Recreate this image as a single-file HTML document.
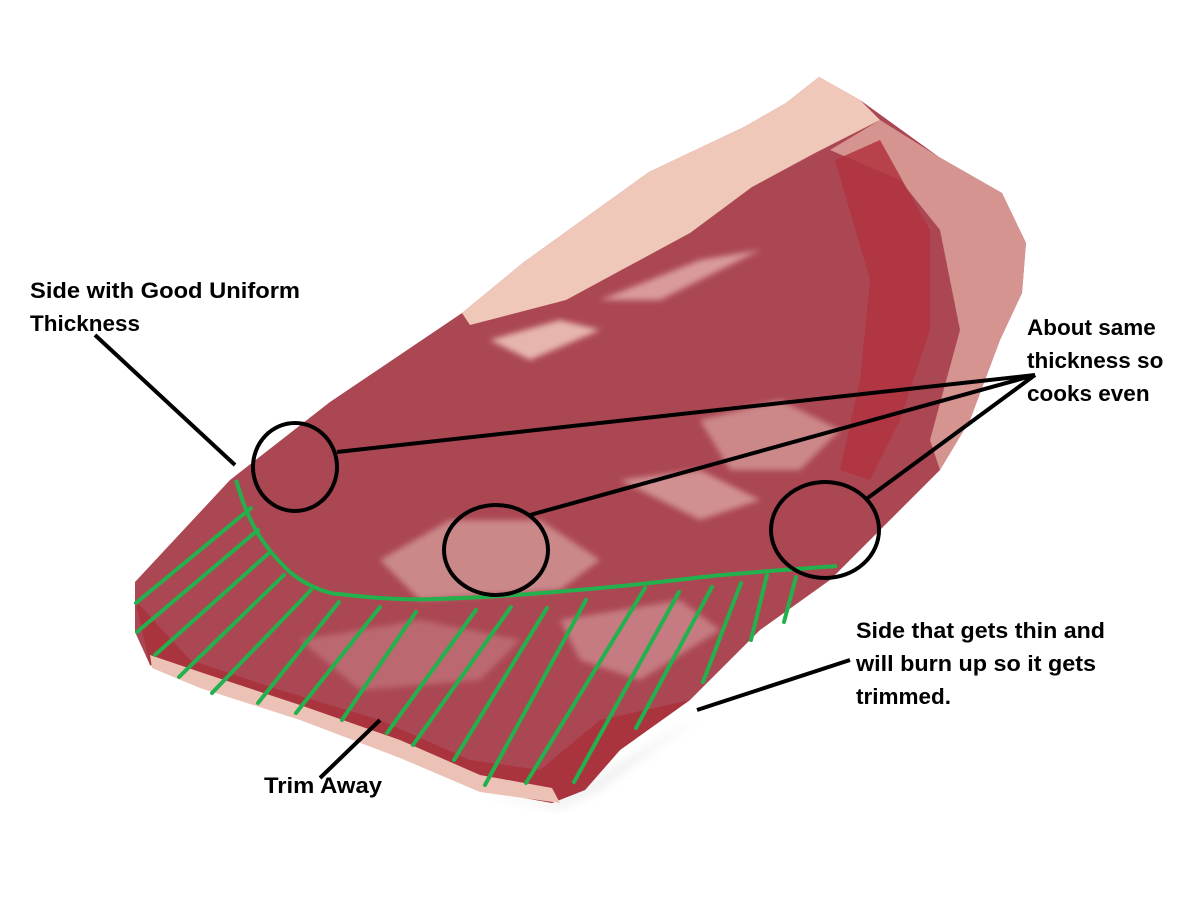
<!DOCTYPE html>
<html><head><meta charset="utf-8"><style>
html,body{margin:0;padding:0;background:#fff;}
svg{display:block;}
text{font-family:"Liberation Sans",sans-serif;font-weight:bold;font-size:22.5px;fill:#000;}
</style></head><body>
<svg width="1200" height="900" viewBox="0 0 1200 900" xmlns="http://www.w3.org/2000/svg">
<defs>
<filter id="blur" x="-20%" y="-20%" width="140%" height="140%"><feGaussianBlur stdDeviation="5"/></filter>
<filter id="b2"><feGaussianBlur stdDeviation="3"/></filter>
</defs>
<!-- shadow -->
<path d="M480,795 L560,808 L600,790 L700,715 L560,800 Z" fill="#e4e4e4" filter="url(#blur)" opacity="0.6"/>
<!-- meat body -->
<path d="M135,582 L230,480 L330,402 L462,313 L524,262 L649,172 L744,127 L786,103 L819,77 L860,100 L939,157 L1002,193 L1026,243 L1022,293 L1000,340 L970,420 L940,470 L880,530 L830,580 L760,630 L690,700 L620,750 L585,790 L552,803 L480,790 L400,755 L300,718 L200,685 L150,665 L135,632 Z" fill="#ab4753"/>
<!-- bottom slab darker side -->
<path d="M135,600 L150,665 L200,685 L300,718 L400,755 L480,790 L552,803 L585,790 L620,750 L690,700 L600,720 L540,770 L470,760 L380,720 L280,690 L190,660 Z" fill="#a8323c" opacity="0.9"/>
<!-- bottom fat edge -->
<path d="M150,655 L200,672 L300,705 L400,740 L480,775 L552,788 L560,803 L480,792 L400,758 L300,720 L200,688 L152,668 Z" fill="#ecc2b6"/>
<!-- fat cap -->
<path d="M462,313 L524,262 L649,172 L744,127 L786,103 L819,77 L860,100 L880,120 L815,153 L752,187 L690,233 L566,300 L470,325 Z" fill="#efc8b9"/>
<path d="M830,150 L880,120 L939,157 L1002,193 L1026,243 L1022,293 L1000,340 L970,420 L940,470 L930,440 L960,330 L940,230 L900,180 Z" fill="#e0a8a0" opacity="0.8"/>
<!-- dark red muscle band -->
<path d="M835,160 L880,140 L930,230 L930,330 L900,420 L870,480 L840,470 L860,380 L870,280 Z" fill="#b13441" opacity="0.85"/>
<!-- marbling patches -->
<path d="M490,340 L560,320 L600,330 L530,360 Z" fill="#e6b5ad" filter="url(#b2)"/>
<path d="M600,300 L700,260 L760,250 L660,300 Z" fill="#d99a9e" filter="url(#b2)"/>
<path d="M380,560 L450,520 L540,520 L600,560 L560,590 L420,600 Z" fill="#d8a4a0" opacity="0.7" filter="url(#b2)"/>
<path d="M700,420 L780,400 L840,430 L800,470 L730,470 Z" fill="#daa3a1" opacity="0.7" filter="url(#b2)"/>
<path d="M620,480 L700,470 L760,500 L700,520 Z" fill="#e0aeaa" opacity="0.7" filter="url(#b2)"/>
<path d="M300,640 L420,620 L520,640 L480,680 L360,690 Z" fill="#cc8a8e" opacity="0.5" filter="url(#b2)"/>
<path d="M560,620 L680,600 L720,630 L640,680 L580,660 Z" fill="#d79ea0" opacity="0.6" filter="url(#b2)"/>
<!-- green curve -->
<path d="M236,480 C245,510 255,540 291,573 C310,588 330,594 339,594 C380,599 410,600 435,599 C500,597 540,593 578,590 C650,584 690,578 722,575 C780,570 810,568 837,566" fill="none" stroke="#22b14c" stroke-width="4"/>
<g stroke="#22b14c" stroke-width="4" stroke-linecap="round">
<line x1="136" y1="603" x2="251" y2="508"/>
<line x1="137" y1="632" x2="258" y2="530"/>
<line x1="155" y1="655" x2="270" y2="552"/>
<line x1="179" y1="677" x2="284" y2="575"/>
<line x1="212" y1="693" x2="311" y2="590"/>
<line x1="258" y1="703" x2="339" y2="602"/>
<line x1="296" y1="713" x2="380" y2="607"/>
<line x1="342" y1="720" x2="416" y2="612"/>
<line x1="387" y1="733" x2="476" y2="610"/>
<line x1="413" y1="745" x2="511" y2="607"/>
<line x1="454" y1="760" x2="547" y2="608"/>
<line x1="485" y1="785" x2="586" y2="600"/>
<line x1="526" y1="783" x2="645" y2="588"/>
<line x1="574" y1="782" x2="679" y2="592"/>
<line x1="636" y1="728" x2="712" y2="587"/>
<line x1="703" y1="682" x2="741" y2="583"/>
<line x1="751" y1="640" x2="767" y2="575"/>
<line x1="784" y1="622" x2="796" y2="577"/>
</g>
<!-- black annotations -->
<g stroke="#000" stroke-width="4" fill="none">
<ellipse cx="295" cy="467" rx="42" ry="44"/>
<ellipse cx="496" cy="550" rx="52" ry="45"/>
<ellipse cx="825" cy="530" rx="54" ry="48"/>
<line x1="1035" y1="375" x2="337" y2="452"/>
<line x1="1035" y1="375" x2="530" y2="515"/>
<line x1="1035" y1="375" x2="865" y2="500"/>
<line x1="95" y1="335" x2="235" y2="465"/>
<line x1="697" y1="710" x2="850" y2="660"/>
<line x1="380" y1="720" x2="320" y2="778"/>
</g>
<text x="30" y="298" textLength="270" lengthAdjust="spacingAndGlyphs">Side with Good Uniform</text>
<text x="30" y="331">Thickness</text>
<text x="1027" y="335">About same</text>
<text x="1027" y="368">thickness so</text>
<text x="1027" y="401">cooks even</text>
<text x="856" y="638" textLength="249" lengthAdjust="spacingAndGlyphs">Side that gets thin and</text>
<text x="856" y="671" textLength="240" lengthAdjust="spacingAndGlyphs">will burn up so it gets</text>
<text x="856" y="704">trimmed.</text>
<text x="264" y="793" textLength="118" lengthAdjust="spacingAndGlyphs">Trim Away</text>
</svg>
</body></html>
